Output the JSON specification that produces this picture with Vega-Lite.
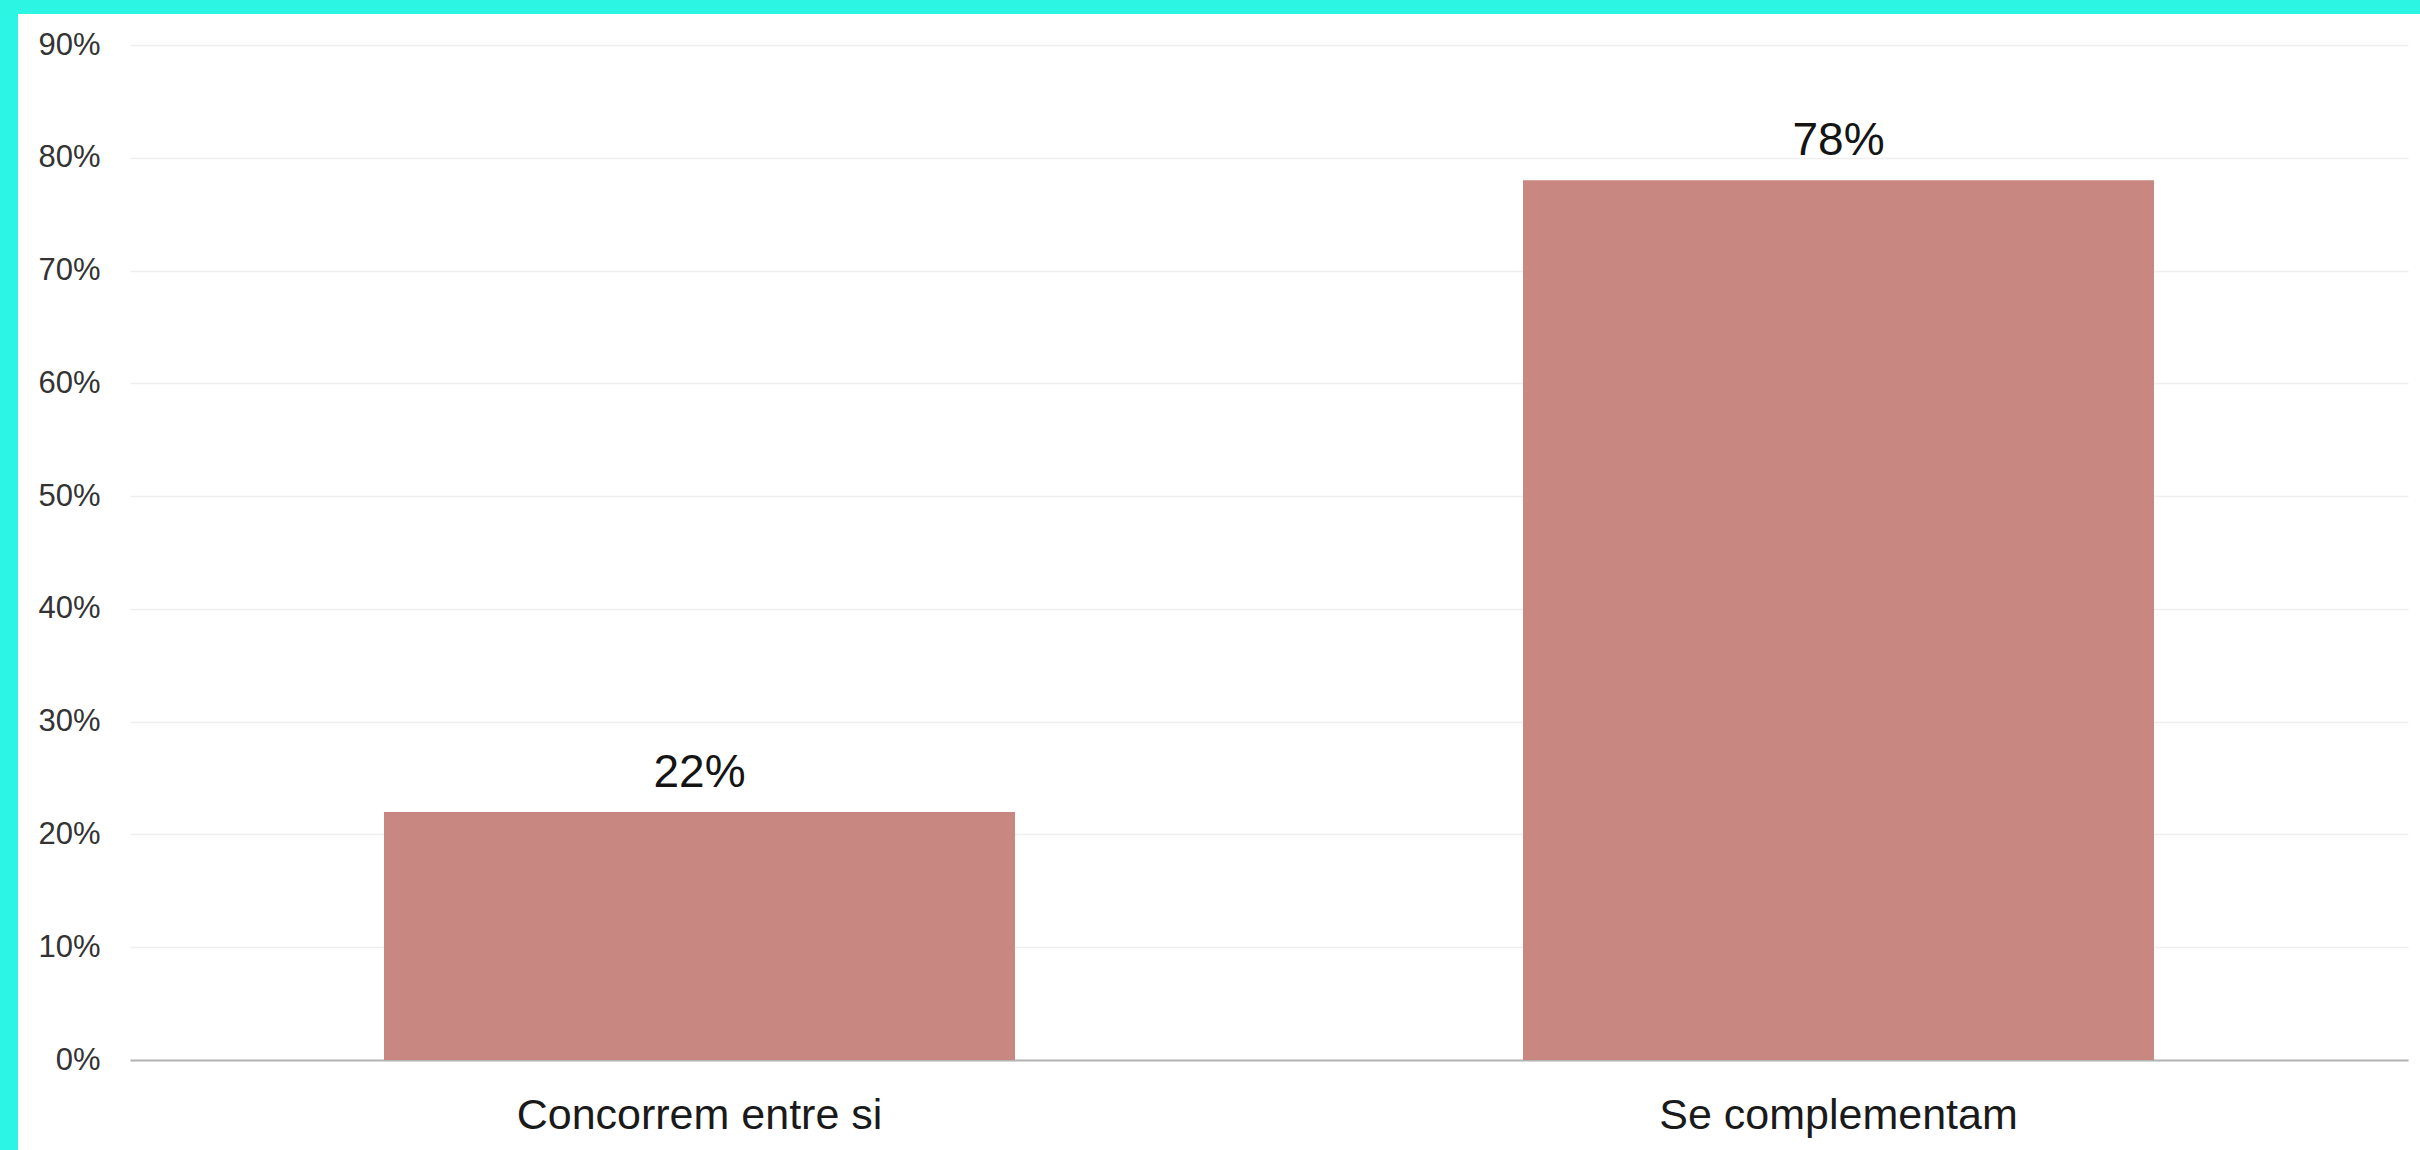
{
  "$schema": "https://vega.github.io/schema/vega-lite/v6.json",
  "width": 2402,
  "height": 1136,
  "autosize": {"type": "none"},
  "padding": {"left": 18, "top": 14, "right": 0, "bottom": 0},
  "background": "#2cf5e3",
  "config": {
    "view": {"fill": "#ffffff", "stroke": null},
    "font": "Liberation Sans"
  },
  "data": {
    "values": [
      {"categoria": "Concorrem entre si", "valor": 22},
      {"categoria": "Se complementam", "valor": 78}
    ]
  },
  "encoding": {
    "x": {
      "field": "categoria",
      "type": "nominal",
      "sort": null,
      "scale": {"range": [112, 2390], "paddingInner": 0.446, "paddingOuter": 0.223},
      "axis": {
        "title": null,
        "orient": "bottom",
        "offset": -90,
        "labelAngle": 0,
        "labelLimit": 0,
        "ticks": false,
        "tickSize": 0,
        "labelPadding": 68,
        "labelBaseline": "alphabetic",
        "labelFontSize": 43,
        "labelColor": "#1a1a1a",
        "labelFont": "Liberation Sans",
        "domainColor": "#b4b4b4",
        "domainWidth": 2,
        "grid": false
      }
    },
    "y": {
      "field": "valor",
      "type": "quantitative",
      "scale": {"domain": [-7.98, 92.75], "nice": false, "zero": false},
      "axis": {
        "title": null,
        "orient": "left",
        "offset": -82,
        "values": [0, 10, 20, 30, 40, 50, 60, 70, 80, 90],
        "labelExpr": "datum.value + '%'",
        "ticks": false,
        "tickSize": 0,
        "labelPadding": 0,
        "domain": false,
        "labelFontSize": 31,
        "labelColor": "#333333",
        "labelBaseline": "middle",
        "grid": true,
        "gridColor": "#efefef",
        "gridWidth": 1.5
      }
    }
  },
  "layer": [
    {
      "mark": {"type": "bar", "color": "#c98781"},
      "encoding": {"y2": {"datum": 0}}
    },
    {
      "mark": {"type": "text", "baseline": "alphabetic", "dy": -25, "fontSize": 46, "color": "#141414", "font": "Liberation Sans", "text": {"expr": "datum.valor + '%'"}}
    }
  ]
}
